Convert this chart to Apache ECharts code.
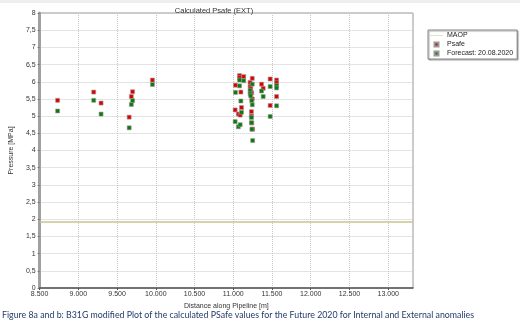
<!DOCTYPE html>
<html>
<head>
<meta charset="utf-8">
<script src="https://cdn.jsdelivr.net/npm/echarts@6/dist/echarts.min.js"></script>
<style>
html,body{margin:0;padding:0;background:#fff;}
#c{width:520px;height:327px;}
</style>
</head>
<body>
<div id="c"></div>
<script>
// Distance along pipeline [m] for each anomaly
var distance = [8732, 9198, 9293, 9656, 9684, 9700, 9956,
  11024, 11028, 11065, 11081, 11081, 11089, 11098, 11106, 11135,
  11217, 11217, 11225, 11234, 11234, 11238, 11245, 11250, 11240, 11245,
  11365, 11386, 11476, 11476, 11559, 11559, 11559];
// Calculated Psafe
var psafe = [5.46, 5.70, 5.38, 4.97, 5.57, 5.71, 6.05,
  5.18, 5.90, 5.06, 6.18, 6.12, 5.03, 5.70, 5.25, 6.15,
  5.98, 5.86, 5.80, 5.13, 5.00, 5.68, 5.50, 4.62, 4.80, 6.10,
  5.93, 5.81, 6.08, 5.31, 6.05, 5.97, 5.57];
// Forecast 20.08.2020
var forecast = [5.15, 5.46, 5.06, 4.66, 5.34, 5.45, 5.92,
  4.84, 5.69, 4.69, 6.05, 5.88, 4.75, 5.44, 5.11, 6.03,
  5.75, 5.65, 5.59, 4.96, 4.81, 5.45, 5.33, 4.29, 4.62, 5.93,
  5.73, 5.57, 5.86, 4.99, 5.89, 5.82, 5.30];
var maop = 1.92;
var xMin = 8500, xMax = 13320;
var seriesNames = ['MAOP', 'Psafe', 'Forecast: 20.08.2020'];

var chart = echarts.init(document.getElementById('c'), null, {renderer: 'canvas'});
var ff = 'Liberation Sans, Arial, sans-serif';
var psData = distance.map(function (d, i) { return [d, psafe[i]]; });
var fcData = distance.map(function (d, i) { return [d, forecast[i]]; });
var sq = 'path://M0 0H10V10H0Z';

chart.setOption({
  animation: false,
  backgroundColor: '#fff',
  title: {
    text: 'Calculated Psafe (EXT)',
    left: 209, top: 2, textAlign: 'center',
    textStyle: {fontFamily: ff, fontSize: 7.5, fontWeight: 'normal', color: '#333'}
  },
  legend: {
    orient: 'vertical', left: 428, top: 30,
    itemGap: 2, itemWidth: 13, itemHeight: 4,
    padding: [2, 4, 2, 2],
    backgroundColor: '#fff',
    borderColor: '#888', borderWidth: 1,
    shadowColor: 'rgba(0,0,0,0.35)', shadowBlur: 1, shadowOffsetX: 1, shadowOffsetY: 1,
    textStyle: {fontFamily: ff, fontSize: 7, color: '#222', padding: [0, 0, 0, -1]},
    data: [
      {name: seriesNames[0], icon: 'path://M0 0H26V1H0Z', itemStyle: {color: '#c9c58e'}},
      {name: seriesNames[1], icon: sq},
      {name: seriesNames[2], icon: sq}
    ]
  },
  grid: {left: 22, right: 107, top: 13, bottom: 39, show: true, borderColor: '#999', borderWidth: 1},
  xAxis: {
    type: 'value', min: xMin, max: xMax, interval: 500,
    name: 'Distance along Pipeline [m]', nameLocation: 'middle', nameGap: 9,
    nameTextStyle: {fontFamily: ff, fontSize: 7, color: '#333'},
    axisLine: {show: true, lineStyle: {color: '#555', width: 1.5}},
    axisTick: {show: true, length: 2, lineStyle: {color: '#555'}},
    axisLabel: {
      fontFamily: ff, fontSize: 7, color: '#333', margin: 3, showMaxLabel: false,
      formatter: function (v) {
        if (v % 500 !== 0) return '';
        var s = String(v);
        return s.slice(0, s.length - 3) + '.' + s.slice(-3);
      }
    },
    splitLine: {show: true, lineStyle: {color: '#c8c8c8', type: 'dotted', width: 1}}
  },
  yAxis: {
    type: 'value', min: 0, max: 8, interval: 0.5,
    name: 'Pressure [MPa]', nameLocation: 'middle', nameGap: 15,
    nameTextStyle: {fontFamily: ff, fontSize: 7, color: '#333'},
    axisLine: {show: true, lineStyle: {color: '#a0a0a0', width: 3}},
    axisTick: {show: true, length: 2, lineStyle: {color: '#777'}},
    axisLabel: {
      fontFamily: ff, fontSize: 7, color: '#333', margin: 4,
      formatter: function (v) { return String(v).replace('.', ','); }
    },
    splitLine: {show: true, lineStyle: {color: '#c8c8c8', type: 'dotted', width: 1}}
  },
  series: [
    {
      name: seriesNames[0], type: 'line', symbol: 'none', silent: true,
      data: [[xMin, maop], [xMax, maop]],
      lineStyle: {color: '#c9c58e', width: 1.5}, itemStyle: {color: '#c9c58e'}
    },
    {
      name: seriesNames[1], type: 'scatter', symbol: 'rect', symbolSize: 4,
      data: psData,
      itemStyle: {color: '#dd0000', borderColor: '#999', borderWidth: 0.6, opacity: 1}
    },
    {
      name: seriesNames[2], type: 'scatter', symbol: 'rect', symbolSize: 4,
      data: fcData,
      itemStyle: {color: '#0b7a0b', borderColor: '#999', borderWidth: 0.6, opacity: 1}
    }
  ],
  graphic: [
    {type: 'rect', left: 0, top: 0, shape: {width: 520, height: 3}, style: {fill: '#eeeeee'}, silent: true},
    {
      type: 'text', left: 2, top: 311,
      style: {
        text: 'Figure 8a and b: B31G modified Plot of the calculated PSafe values for the Future 2020 for Internal and External anomalies',
        font: '8.8px Lato, "Open Sans", sans-serif', fill: '#243a6a'
      }
    }
  ]
});
</script>
</body>
</html>
